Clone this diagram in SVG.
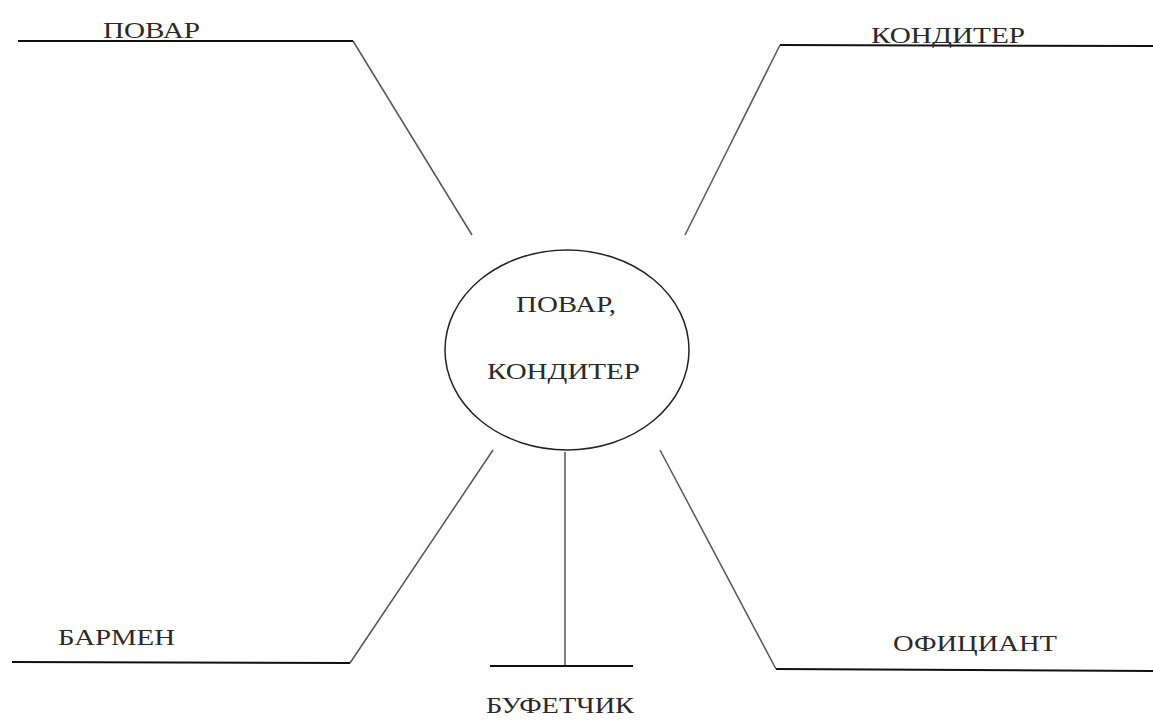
<svg xmlns="http://www.w3.org/2000/svg" width="1153" height="720" viewBox="0 0 1153 720">
<style>
text{font-family:"Liberation Serif","DejaVu Serif",serif;font-size:24px;fill:#2a2a2a}
.h{stroke:#111;stroke-width:2;fill:none}
.d{stroke:#555;stroke-width:1.5;fill:none}
</style>
<rect width="1153" height="720" fill="#fff"/>
<g id="connectors">
<line class="d" x1="353" y1="41" x2="472" y2="235"/>
<line class="d" x1="780" y1="45" x2="685" y2="235"/>
<line class="d" x1="350" y1="663" x2="493" y2="450"/>
<line class="d" x1="565" y1="452" x2="565" y2="666"/>
<line class="d" x1="660" y1="450" x2="776" y2="669"/>
</g>
<g id="center">
<ellipse cx="567" cy="350" rx="122" ry="100" fill="none" stroke="#222" stroke-width="1.5"/>
<text x="516" y="312" textLength="100" lengthAdjust="spacingAndGlyphs">ПОВАР,</text>
<text x="487" y="379" textLength="153" lengthAdjust="spacingAndGlyphs">КОНДИТЕР</text>
</g>
<g id="povar">
<line class="h" x1="18" y1="41" x2="353" y2="41"/>
<text x="103" y="38" textLength="97" lengthAdjust="spacingAndGlyphs">ПОВАР</text>
</g>
<g id="konditer">
<line class="h" x1="780" y1="45" x2="1153" y2="46"/>
<text x="871" y="43" textLength="154" lengthAdjust="spacingAndGlyphs">КОНДИТЕР</text>
</g>
<g id="barmen">
<line class="h" x1="12" y1="662" x2="350" y2="663"/>
<text x="58" y="645" textLength="117" lengthAdjust="spacingAndGlyphs">БАРМЕН</text>
</g>
<g id="bufetchik">
<line class="h" x1="490" y1="666" x2="633" y2="666"/>
<text x="486" y="713" textLength="148" lengthAdjust="spacingAndGlyphs">БУФЕТЧИК</text>
</g>
<g id="oficiant">
<line class="h" x1="776" y1="669" x2="1153" y2="671"/>
<text x="893" y="651" textLength="164" lengthAdjust="spacingAndGlyphs">ОФИЦИАНТ</text>
</g>
</svg>
